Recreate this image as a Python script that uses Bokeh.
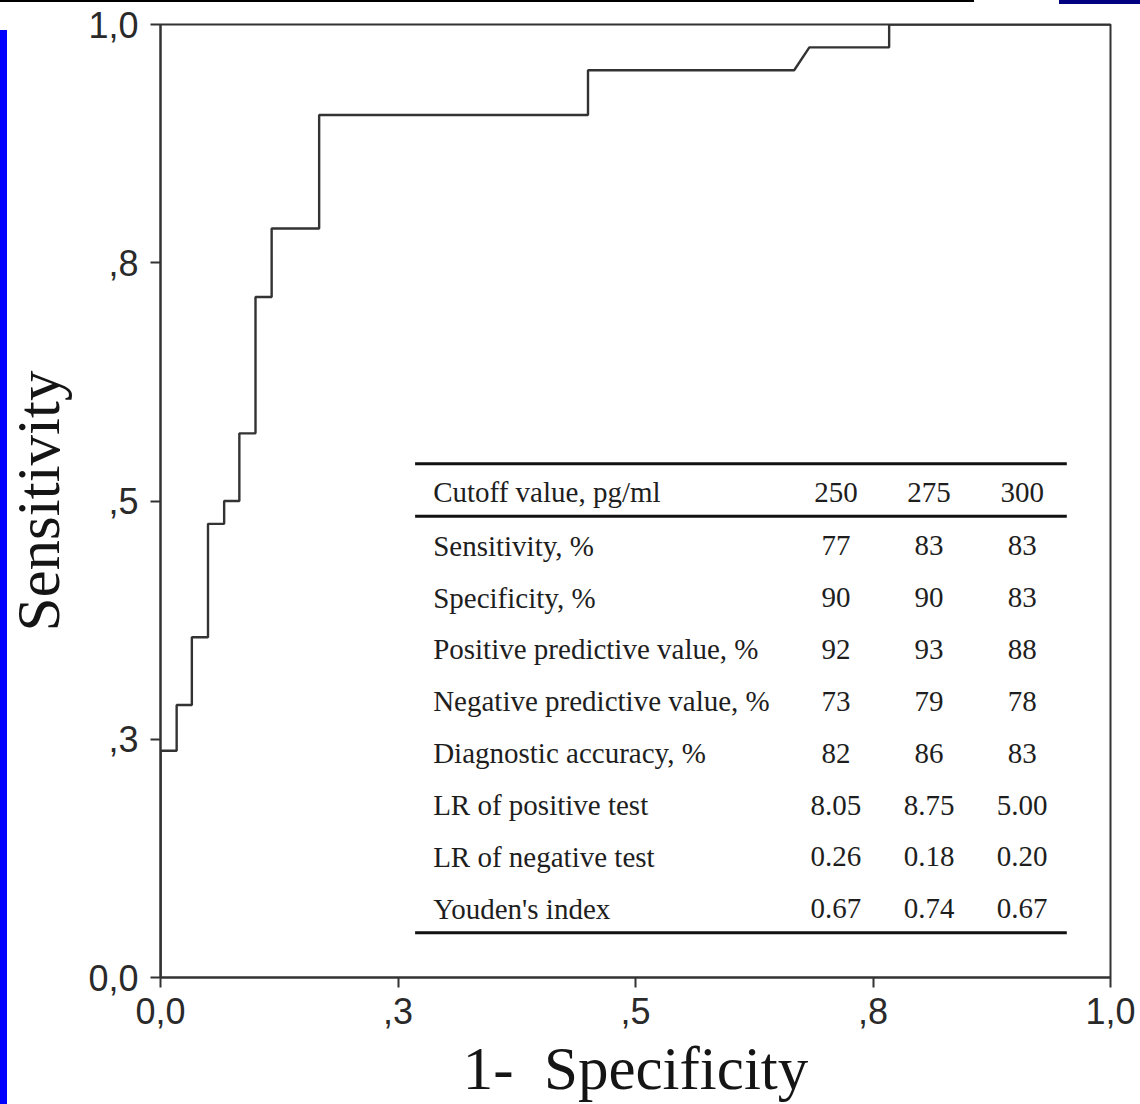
from bokeh.plotting import figure
from bokeh.models import Range1d, FixedTicker, InlineStyleSheet
from bokeh.core.properties import value
from bokeh.embed import file_html
from bokeh.resources import INLINE

# ROC curve (1 - specificity, sensitivity)
fpr = [0.0, 0.0, 0.017, 0.017, 0.033, 0.033, 0.050, 0.050, 0.067, 0.067,
       0.083, 0.083, 0.100, 0.100, 0.117, 0.117, 0.167, 0.167, 0.450, 0.450,
       0.667, 0.683, 0.767, 0.767, 1.0]
tpr = [0.0, 0.238, 0.238, 0.286, 0.286, 0.357, 0.357, 0.476, 0.476, 0.500,
       0.500, 0.571, 0.571, 0.714, 0.714, 0.786, 0.786, 0.905, 0.905, 0.952,
       0.952, 0.976, 0.976, 1.0, 1.0]

tick_values = [0.0, 0.25, 0.5, 0.75, 1.0]
tick_labels = ["0,0", ",3", ",5", ",8", "1,0"]

header_label = "Cutoff value, pg/ml"
cutoffs = ["250", "275", "300"]
row_labels = ["Sensitivity, %", "Specificity, %", "Positive predictive value, %",
              "Negative predictive value, %", "Diagnostic accuracy, %",
              "LR of positive test", "LR of negative test", "Youden's index"]
col_250 = ["77", "90", "92", "73", "82", "8.05", "0.26", "0.67"]
col_275 = ["83", "90", "93", "79", "86", "8.75", "0.18", "0.74"]
col_300 = ["83", "83", "88", "78", "83", "5.00", "0.20", "0.67"]

LINE = "#333333"
TXT = "#1e1e1e"
SERIF = "Liberation Serif"
SANS = "Liberation Sans"

p = figure(width=1140, height=1104, output_backend="svg", toolbar_location=None,
           x_range=Range1d(0, 1), y_range=Range1d(0, 1),
           min_border_left=160, min_border_right=30, min_border_top=24,
           min_border_bottom=127)
p.background_fill_color = "white"
p.border_fill_color = "white"
p.grid.visible = False
p.outline_line_color = LINE
p.outline_line_width = 2

for ax in (p.xaxis[0], p.yaxis[0]):
    ax.ticker = FixedTicker(ticks=tick_values)
    ax.major_label_overrides = {v: l for v, l in zip(tick_values, tick_labels)}
    ax.axis_line_color = LINE
    ax.axis_line_width = 2
    ax.major_tick_line_color = LINE
    ax.major_tick_line_width = 2
    ax.major_tick_out = 10
    ax.major_tick_in = 0
    ax.minor_tick_line_color = None
    ax.major_label_text_font = SANS
    ax.major_label_text_font_size = "36px"
    ax.major_label_text_color = "#2a2a2a"
    ax.axis_label_text_font = SERIF
    ax.axis_label_text_font_size = "61px"
    ax.axis_label_text_font_style = "normal"
    ax.axis_label_text_color = "#151515"

p.xaxis[0].axis_label = "1-\u00a0 Specificity"
p.yaxis[0].axis_label = "Sensitivity"
p.xaxis[0].major_label_standoff = 10
p.xaxis[0].axis_label_standoff = 8
p.yaxis[0].major_label_standoff = 12
p.yaxis[0].axis_label_standoff = 13

# ROC step curve
p.line(fpr, tpr, line_color=LINE, line_width=2.4)

# Embedded table (positions in plot units)
tab_left, tab_right = 0.268, 0.954
p.segment(x0=[tab_left] * 3, x1=[tab_right] * 3, y0=[0.539, 0.484, 0.047],
          y1=[0.539, 0.484, 0.047], line_color="#111111", line_width=3)

col_x = [0.711, 0.809, 0.907]
label_x = 0.287
header_y = 0.509
row_y = [0.453 - i * 0.0544 for i in range(len(row_labels))]

p.text(x=[label_x], y=[header_y], text=[header_label], text_font=value(SERIF),
       text_font_size="29px", text_baseline="middle", text_align="left",
       text_color=TXT)
p.text(x=col_x, y=[header_y] * 3, text=cutoffs, text_font=value(SERIF),
       text_font_size="29px", text_baseline="middle", text_align="center",
       text_color=TXT)
p.text(x=[label_x] * len(row_labels), y=row_y, text=row_labels,
       text_font=value(SERIF), text_font_size="29px", text_baseline="middle",
       text_align="left", text_color=TXT)
for cx, col in zip(col_x, [col_250, col_275, col_300]):
    p.text(x=[cx] * len(col), y=row_y, text=col, text_font=value(SERIF),
           text_font_size="29px", text_baseline="middle", text_align="center",
           text_color=TXT)

# page-edge remnants of the source (blue bar left, rules at the top)
p.stylesheets = [InlineStyleSheet(css="""
:host::before { content: ""; position: absolute; left: 0px; top: 30px;
  width: 7px; height: 1074px; background: #0000ff; z-index: 50;
  pointer-events: none; }
:host::after { content: ""; position: absolute; left: 0px; top: 0px;
  width: 1140px; height: 4px; z-index: 50; pointer-events: none;
  background:
    linear-gradient(to right, #000000 0px, #000000 974px, transparent 974px) top left / 100% 2px no-repeat,
    linear-gradient(to right, transparent 1059px, #000080 1059px) top left / 100% 4px no-repeat; }
""")]

open("out.html", "w").write(file_html(p, INLINE))
